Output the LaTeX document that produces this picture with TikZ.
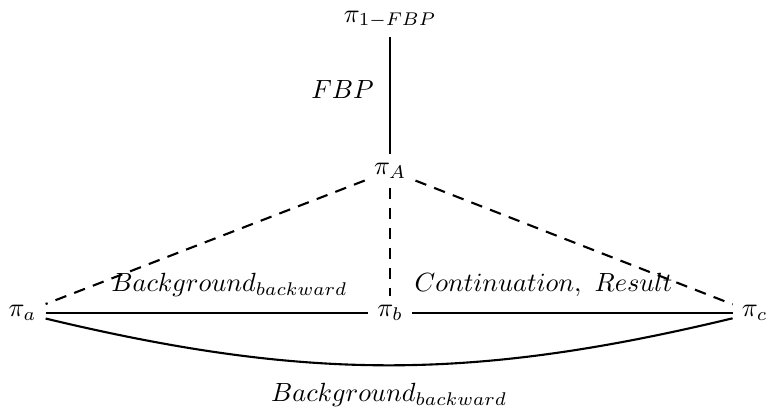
\documentclass[tikz,border=0pt]{standalone}
\usetikzlibrary{positioning}
\begin{document}
\begin{tikzpicture}[
on grid,
state/.style={inner sep=3.33pt},
link/.style={thick},
hidden/.style={thick, dash pattern=on 4.4pt off 3.2pt}
]
\useasboundingbox (-5.21,-1.255) rectangle (5.06,4.18);
\node[state](pi_b){$\pi_b$};
\node[state](pi_A)[above=1.9cm of pi_b]{$\pi_A$};
\node[state](pi_fbp)[above=2.02cm of pi_A]{$\pi_{1-FBP}$};
\node[state](pi_a)[left=4.91cm of pi_b]{$\pi_a$};
\node[state](pi_c)[right=4.87cm of pi_b]{$\pi_c$};

\draw[link] (pi_A) -- node[pos=0.55, left=2.5pt]{$FBP$} (pi_fbp);
\draw[hidden] (pi_A) -- (pi_a);
\draw[hidden] (pi_A) -- (pi_b);
\draw[hidden] (pi_A) -- (pi_c);
\draw[link] (pi_a) -- node[pos=0.57, above=2.5pt]{$Background_{backward}$} (pi_b);
\draw[link] (pi_b) -- node[pos=0.41, above=2.5pt]{$Continuation,\ Result$} (pi_c);
\draw[link] (pi_a) to[bend right=13.5] node[below=3pt]{$Background_{backward}$} (pi_c);
\end{tikzpicture}
\end{document}
